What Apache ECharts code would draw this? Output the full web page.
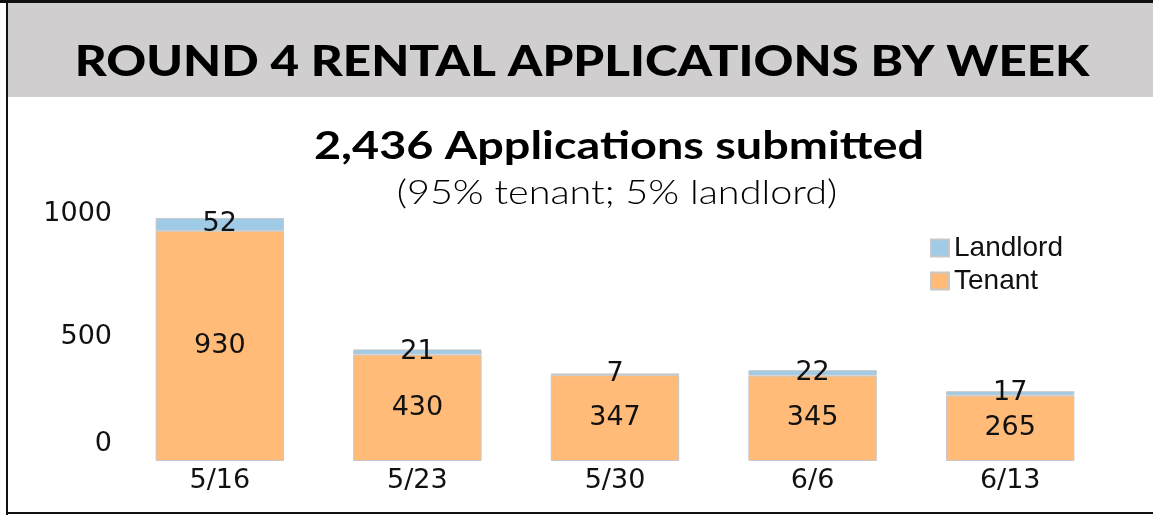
<!DOCTYPE html>
<html>
<head>
<meta charset="utf-8">
<title>Round 4 Rental Applications by Week</title>
<script src="https://cdn.jsdelivr.net/npm/echarts@6/dist/echarts.min.js"></script>
<style>
  html, body { margin: 0; padding: 0; background: #fff; }
  #chart { width: 1153px; height: 515px; }
</style>
</head>
<body>
<div id="chart"></div>
<script>
// weekly application counts
const weeks = ['5/16', '5/23', '5/30', '6/6', '6/13']
const tenant = [930, 430, 347, 345, 265]
const landlord = [52, 21, 7, 22, 17]
const yTicks = [0, 500, 1000]

const chart = echarts.init(document.getElementById('chart'))

// numbers use a wider face than the legend text
const numFont = { fontFamily: 'DejaVu Sans', fontSize: 27, color: '#111' }
const legendFont = { fontFamily: 'Liberation Sans', fontSize: 28, color: '#111' }

// Lato is narrower than the original's geometric face, so stretch it a bit
const option = {
  animation: false,
  backgroundColor: '#fff',
  graphic: [
    // header band + frame
    { type: 'rect', shape: { x: 8, y: 3, width: 1145, height: 94 }, style: { fill: '#d0cecf' } },
    { type: 'rect', shape: { x: 0, y: 0, width: 1153, height: 3 }, style: { fill: '#111' } },
    { type: 'rect', shape: { x: 6, y: 0, width: 2, height: 515 }, style: { fill: '#111' } },
    { type: 'rect', shape: { x: 6, y: 512, width: 1147, height: 2 }, style: { fill: '#111' } },
    {
      type: 'text', x: 582, y: 62, scaleX: 1.175,
      style: {
        text: 'ROUND 4 RENTAL APPLICATIONS BY WEEK',
        font: '900 42px Lato', fill: '#000',
        textAlign: 'center', textVerticalAlign: 'middle'
      }
    },
    {
      type: 'text', x: 619, y: 146, scaleX: 1.2,
      style: {
        text: '2,436 Applications submitted',
        font: 'bold 39px Lato', fill: '#000',
        textAlign: 'center', textVerticalAlign: 'middle'
      }
    },
    {
      type: 'text', x: 617, y: 193, scaleX: 1.2,
      style: {
        text: '(95% tenant; 5% landlord)',
        font: '300 33px Lato', fill: '#000',
        textAlign: 'center', textVerticalAlign: 'middle'
      }
    }
  ],
  legend: {
    orient: 'vertical',
    left: 930,
    top: 234,
    padding: 0,
    itemWidth: 18,
    itemHeight: 17,
    itemGap: 5,
    itemTextGap: 12,
    icon: 'rect',
    data: ['Landlord', 'Tenant'],
    textStyle: legendFont
  },
  grid: { left: 121, right: 44, top: 213.5, bottom: 54 },
  xAxis: {
    type: 'category',
    data: weeks,
    axisLine: { show: false },
    axisTick: { show: false },
    axisLabel: { ...numFont, margin: 6 }
  },
  yAxis: {
    type: 'value',
    min: yTicks[0],
    max: yTicks[yTicks.length - 1],
    interval: yTicks[1] - yTicks[0],
    splitLine: { show: false },
    axisLine: { show: false },
    axisTick: { show: false },
    axisLabel: {
      ...numFont,
      margin: 9,
      // the zero label sits a bit above the baseline in the original
      formatter: v => (v === 0 ? '{z|0}' : String(v)),
      rich: { z: { ...numFont, padding: [0, 0, 34, 0] } }
    }
  },
  series: [
    {
      name: 'Tenant',
      type: 'bar',
      stack: 'apps',
      data: tenant,
      barWidth: '65%',
      itemStyle: { color: '#ffbb77', borderColor: '#c8c8c8', borderWidth: 1 },
      label: { show: true, position: 'inside', ...numFont }
    },
    {
      name: 'Landlord',
      type: 'bar',
      stack: 'apps',
      data: landlord,
      barWidth: '65%',
      itemStyle: { color: '#9fcbe7', borderColor: '#c8c8c8', borderWidth: 1 },
      label: { show: true, position: 'inside', ...numFont }
    }
  ]
}

chart.setOption(option)
</script>
</body>
</html>
